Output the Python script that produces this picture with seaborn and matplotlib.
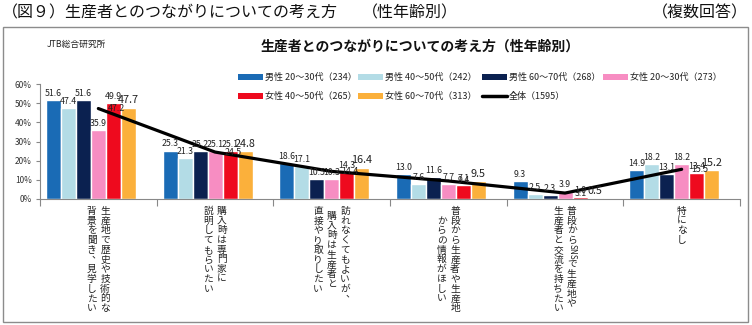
import numpy as np
import pandas as pd
import matplotlib
matplotlib.use("Agg")
import matplotlib.pyplot as plt
from matplotlib.patches import Rectangle
from matplotlib.lines import Line2D
import seaborn as sns

# ---- data -------------------------------------------------------------
categories = [
    "生産地で歴史や技術的な\n背景を聞き、見学したい",
    "購入時は専門家に\n説明してもらいたい",
    "訪れなくてもよいが、\n 購入時は生産者と\n直接やり取りしたい",
    "普段から生産者や生産地\n　からの情報がほしい",
    "普段からSNSで生産地や\n生産者と交流を持ちたい",
    "特になし",
]
series_names = [
    "男性 20～30代（234）",
    "男性 40～50代（242）",
    "男性 60～70代（268）",
    "女性 20～30代（273）",
    "女性 40～50代（265）",
    "女性 60～70代（313）",
]
total_name = "全体（1595）"

male_20_30 = [51.6, 25.3, 18.6, 13.0, 9.3, 14.9]
male_40_50 = [47.4, 21.3, 17.1, 7.6, 2.5, 18.2]
male_60_70 = [51.6, 25.2, 10.5, 11.6, 2.3, 13.1]
female_20_30 = [35.9, 25.1, 10.3, 7.7, 3.9, 18.2]
female_40_50 = [49.9, 25.1, 14.3, 7.1, 1.0, 13.4]
female_60_70 = [47.7, 24.8, 16.4, 9.5, 0.5, 15.2]
total = [47.2, 24.5, 14.4, 9.4, 3.1, 15.5]

y_ticks = [0, 10, 20, 30, 40, 50, 60]

colors = ["#1a6bb5", "#b3dce6", "#0b2150", "#f78dc2", "#ee0a1e", "#fbb03b"]

# ---- figure ------------------------------------------------------------
sns.set_theme(style="white")
plt.rcParams["font.family"] = ["Noto Sans CJK JP", "DejaVu Sans"]

W, H = 752, 325
fig = plt.figure(figsize=(W / 100, H / 100), dpi=100)
fig.patch.set_facecolor("white")


def fx(px):
    return px / W


def fy(py):
    return 1 - py / H


ax = fig.add_axes([fx(40), fy(199), fx(740) - fx(40), fy(84) - fy(199)])

values = [male_20_30, male_40_50, male_60_70, female_20_30, female_40_50, female_60_70]
rows = []
for name, vals in zip(series_names, values):
    for cat, v in zip(categories, vals):
        rows.append({"cat": cat, "series": name, "value": v})
df = pd.DataFrame(rows)

# the seventh hue slot (全体) is kept empty so each cluster leaves room for it
hue_order = series_names + [total_name]
palette = dict(zip(hue_order, colors + ["#000000"]))

sns.barplot(
    data=df, x="cat", y="value", hue="series", order=categories,
    hue_order=hue_order, palette=palette, width=0.9, saturation=1,
    legend=False, ax=ax, zorder=2,
)

for i, cont in enumerate(ax.containers):
    big = i == 5
    ax.bar_label(cont, fmt="%.1f", padding=1.5,
                 fontsize=7.8 if big else 6.3, color="#222222", zorder=5)

x_pos = np.arange(len(categories))
sns.lineplot(x=x_pos, y=total, color="black", linewidth=2.3, sort=False,
             ax=ax, zorder=4, legend=False)
for xi, v in zip(x_pos, total):
    ax.annotate(f"{v:.1f}", (xi, v), xytext=(7, 0), textcoords="offset points",
                ha="left", va="center", fontsize=6.3, color="#222222", zorder=5)

ax.set_xlim(-0.5, len(categories) - 0.5)
ax.set_ylim(0, 60)
ax.set_yticks(y_ticks)
ax.set_yticklabels([f"{t}%" for t in y_ticks], fontsize=6, color="#333333")
ax.set_xticks(np.arange(-0.5, len(categories), 1))
ax.set_xticklabels([])
ax.set_xlabel("")
ax.set_ylabel("")
ax.tick_params(axis="y", length=3, width=0.8, color="#888888", pad=3, left=True)
ax.tick_params(axis="x", length=5, width=0.8, color="#888888", bottom=True)
for side in ["top", "right"]:
    ax.spines[side].set_visible(False)
for side in ["left", "bottom"]:
    ax.spines[side].set_color("#888888")
    ax.spines[side].set_linewidth(0.8)
ax.grid(False)


# ---- vertical (tategaki) category labels -------------------------------
def vertical_label(cx, top, text, size=7.0, gap=13.5):
    em = size * 100 / 72
    lines = text.split("\n")
    n = len(lines)
    for j, line in enumerate(lines):
        x = cx + (n - 1) / 2 * gap - j * gap
        y = top
        k = 0
        while k < len(line):
            ch = line[k]
            if ch == " ":
                y += em * 0.5
                k += 1
                continue
            if ch.isascii() and ch.isalpha():
                run = ch
                while k + 1 < len(line) and line[k + 1].isascii() and line[k + 1].isalpha():
                    k += 1
                    run += line[k]
                adv = em * 0.5 * len(run)
                fig.text(fx(x), fy(y + adv / 2), run, rotation=-90, ha="center",
                         va="center", fontsize=size * 0.85, color="#222222")
                y += adv
                k += 1
                continue
            dx, dy = 0, 0
            if ch in "、，":
                dx, dy = em * 0.5, -em * 0.5
            fig.text(fx(x + dx), fy(y + em / 2 + dy), ch, ha="center",
                     va="center", fontsize=size, color="#222222")
            y += em
            k += 1


fig.canvas.draw()
for i, cat in enumerate(categories):
    cx_disp = ax.transData.transform((i, 0))[0]
    vertical_label(cx_disp, 206, cat)

# ---- titles ------------------------------------------------------------
fig.text(fx(2), fy(13), "（図９）生産者とのつながりについての考え方",
         fontsize=11.5, ha="left", va="center", color="#111111")
fig.text(fx(362), fy(13), "（性年齢別）", fontsize=11.5, ha="left",
         va="center", color="#111111")
fig.text(fx(748), fy(13), "（複数回答）", fontsize=11.5, ha="right",
         va="center", color="#111111")
fig.text(fx(420), fy(47), "生産者とのつながりについての考え方（性年齢別）",
         fontsize=10, fontweight="bold", ha="center", va="center", color="#111111")
fig.text(fx(47), fy(44), "JTB総合研究所", fontsize=6.3, ha="left",
         va="center", color="#222222")

# ---- legend ------------------------------------------------------------
legend_items = [(n, c, "patch") for n, c in zip(series_names, colors)]
legend_items.append((total_name, "black", "line"))
slots = [(238, 77), (358, 77), (482, 77), (603, 77), (238, 96), (358, 96), (482, 96)]
for (name, col, kind), (lx, ly) in zip(legend_items, slots):
    if kind == "patch":
        fig.patches.append(Rectangle((fx(lx), fy(ly + 3)), fx(25), 6 / H,
                                     transform=fig.transFigure, facecolor=col,
                                     edgecolor="none"))
    else:
        fig.lines.append(Line2D([fx(lx), fx(lx + 25)], [fy(ly), fy(ly)],
                                transform=fig.transFigure, color=col, lw=2.5))
    fig.text(fx(lx + 27), fy(ly), name, fontsize=6.5, ha="left", va="center",
             color="#222222")

# ---- frame -------------------------------------------------------------
fig.patches.append(Rectangle((fx(3), fy(322)), fx(748) - fx(3), fy(27) - fy(322),
                             transform=fig.transFigure, fill=False,
                             edgecolor="#8c8c8c", linewidth=1.0))

fig.savefig("out.png", dpi=100, facecolor="white")
